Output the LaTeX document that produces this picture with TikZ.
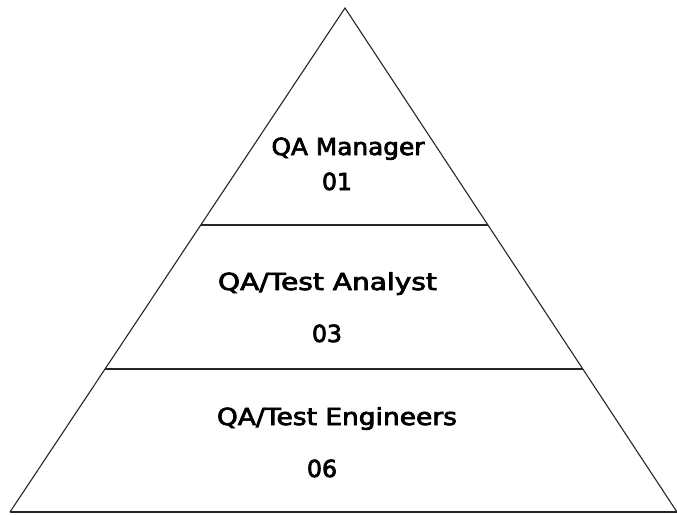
\documentclass[tikz,border=0pt]{standalone}
\usepackage{fontspec}
\setmainfont{DejaVu Sans}
\newfontfamily\levelfont{DejaVu Sans}[FakeBold=3]
\usetikzlibrary{calc}
\tikzset{
  edge/.style={draw=black!85, line width=1.1pt},
  label/.style={inner sep=0pt, anchor=base, font=\levelfont\fontsize{23.5}{28}\selectfont, text=black}
}
% set a text to a given width, keeping its height
\newcommand{\fitto}[2]{\resizebox{#1}{\height}{#2}}
\begin{document}
\begin{tikzpicture}[x=1pt, y=-1pt]
  \useasboundingbox (0,0) rectangle (677,514);
  % corners of the pyramid
  \coordinate (apex) at (345,8);
  \coordinate (bl) at (10,512);
  \coordinate (br) at (677,512);
  % where the level dividers meet the sides
  \coordinate (l1) at ($(apex)!0.4306!(bl)$);
  \coordinate (r1) at ($(apex)!0.4306!(br)$);
  \coordinate (l2) at ($(apex)!0.7163!(bl)$);
  \coordinate (r2) at ($(apex)!0.7163!(br)$);

  \draw[edge] (bl) -- (apex) -- (br);
  \draw[edge] (bl) -- (br);
  \draw[edge] (l1) -- (r1);
  \draw[edge] (l2) -- (r2);

  % level labels
  \node[label] (mgr)   at (348,155) {\fitto{153pt}{QA Manager}};
  \node[label] (mgrn)  at (337,190) {\fitto{30pt}{01}};
  \node[label] (ana)   at (327.5,290) {\fitto{219pt}{QA/Test Analyst}};
  \node[label] (anan)  at (327,342) {\fitto{30pt}{03}};
  \node[label] (eng)   at (337,425) {\fitto{240pt}{QA/Test Engineers}};
  \node[label] (engn)  at (322,477) {\fitto{30pt}{06}};
\end{tikzpicture}
\end{document}
